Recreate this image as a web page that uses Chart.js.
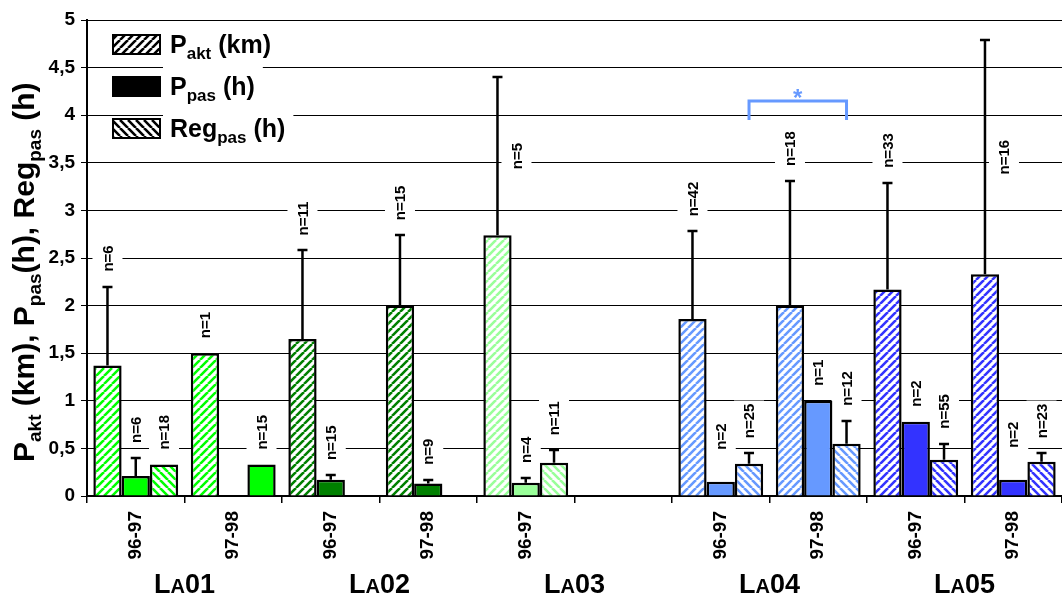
<!DOCTYPE html>
<html>
<head>
<meta charset="utf-8">
<script src="https://cdn.jsdelivr.net/npm/chart.js@4/dist/chart.umd.min.js"></script>
<style>
  html, body { margin: 0; padding: 0; background: #fff; }
  #wrap { width: 1062px; height: 599px; position: relative; }
</style>
</head>
<body>
<div id="wrap"><canvas id="chart"></canvas></div>
<script>
// seasons per site (LA03 only has one season, the slot after it stays empty)
const seasons = ['96-97', '97-98', '96-97', '97-98', '96-97', '', '96-97', '97-98', '96-97', '97-98'];
const sites = ['01', '02', '03', '04', '05'];
const siteOf = [0, 0, 1, 1, 2, 2, 3, 3, 4, 4];

// means, SD (upper whisker only) and sample sizes
const pakt   = [1.37, 1.50, 1.65, 2.00, 2.74, null, 1.86, 2.00, 2.17, 2.33];
const paktSD = [0.83, null, 0.93, 0.74, 1.66, null, 0.92, 1.31, 1.12, 2.46];
const paktN  = [6, 1, 11, 15, 5, null, 42, 18, 33, 16];

const ppas   = [0.21, null, 0.17, 0.13, 0.14, null, 0.15, 1.00, 0.78, 0.17];
const ppasSD = [0.19, null, 0.05, 0.04, 0.05, null, null, null, null, null];
const ppasN  = [6, null, 15, 9, 4, null, 2, 1, 2, 2];

const reg    = [0.33, 0.33, null, null, 0.35, null, 0.34, 0.55, 0.38, 0.36];
const regSD  = [null, null, null, null, 0.13, null, 0.11, 0.24, 0.17, 0.09];
const regN   = [18, 15, null, null, 11, null, 25, 12, 55, 23];

// significant difference: Reg_pas LA04 96-97 vs 97-98
const sigPair = [6, 7];
const sigLevel = 4.15;

const siteColors = ['#00FF00', '#008000', '#99FF99', '#6699FF', '#3333FF'];
const FONT = "'Liberation Sans', Arial, sans-serif";

function hatch(color, dir) {
  const s = 8;
  const c = document.createElement('canvas');
  c.width = c.height = s;
  const g = c.getContext('2d');
  g.fillStyle = '#fff';
  g.fillRect(0, 0, s, s);
  g.strokeStyle = color;
  g.lineWidth = 2.6;
  g.beginPath();
  for (let k = -1; k <= 1; k++) {
    if (dir > 0) { g.moveTo(k * s, s); g.lineTo(k * s + s, 0); }
    else { g.moveTo(k * s, 0); g.lineTo(k * s + s, s); }
  }
  g.stroke();
  return g.createPattern(c, 'repeat');
}

const solidReg = new Set([1]); // this Reg bar is filled solid
const paktFill = siteOf.map(s => hatch(siteColors[s], 1));
const ppasFill = siteOf.map(s => siteColors[s]);
const regFill  = siteOf.map((s, i) => solidReg.has(i) ? siteColors[s] : hatch(siteColors[s], -1));

const series = [
  { vals: pakt, sd: paktSD, n: paktN },
  { vals: ppas, sd: ppasSD, n: ppasN },
  { vals: reg,  sd: regSD,  n: regN }
];

function barBase(data, fill) {
  return { data, backgroundColor: fill, borderColor: '#000', borderWidth: 2.5,
           categoryPercentage: 0.87, barPercentage: 1.0 };
}

const N_FONT = `bold 15px ${FONT}`;

// ---- label geometry for the "n=" texts
function nLabelBoxes(chart) {
  const ctx = chart.ctx;
  const y = chart.scales.y;
  ctx.save();
  ctx.font = N_FONT;
  const out = [];
  series.forEach((ser, d) => {
    const meta = chart.getDatasetMeta(d);
    ser.vals.forEach((v, i) => {
      const n = ser.n[i];
      if (v == null || n == null) return;
      const el = meta.data[i];
      const sd = ser.sd[i];
      const top = y.getPixelForValue(v + (sd || 0));
      const text = 'n=' + n;
      const len = ctx.measureText(text).width;
      let x, bottom;
      if (sd && sd > 1.5) {
        // long whisker: put the label beside the line
        x = el.x + 19;
        bottom = (el.y + top) / 2 + len / 2;
      } else {
        const lift = (!sd && v < 0.3) ? 32 : 15;
        x = el.x;
        bottom = top - lift;
      }
      out.push({ x, bottom, len, text });
    });
  });
  ctx.restore();
  return out;
}

function drawRich(ctx, parts, big, small, drop) {
  let x = 0;
  parts.forEach(p => {
    ctx.font = `bold ${p.sub ? small : big}px ${FONT}`;
    ctx.fillText(p.t, x, p.sub ? drop : 0);
    x += ctx.measureText(p.t).width;
  });
  return x;
}
function richWidth(ctx, parts, big, small) {
  let w = 0;
  parts.forEach(p => {
    ctx.font = `bold ${p.sub ? small : big}px ${FONT}`;
    w += ctx.measureText(p.t).width;
  });
  return w;
}

const legendItems = [
  { fill: () => hatch('#000', 1), parts: [{ t: 'P' }, { t: 'akt', sub: true }, { t: ' (km)' }] },
  { fill: () => '#000', parts: [{ t: 'P' }, { t: 'pas', sub: true }, { t: ' (h)' }] },
  { fill: () => hatch('#000', -1), parts: [{ t: 'Reg' }, { t: 'pas', sub: true }, { t: ' (h)' }] }
];

const yTitle = [
  { t: 'P' }, { t: 'akt', sub: true }, { t: ' (km), P' }, { t: 'pas', sub: true },
  { t: '(h), Reg' }, { t: 'pas', sub: true }, { t: ' (h)' }
];

const extras = {
  id: 'extras',
  beforeDatasetsDraw(chart) {
    const ctx = chart.ctx;
    ctx.save();
    ctx.fillStyle = '#fff';
    nLabelBoxes(chart).forEach(b => {
      ctx.fillRect(b.x - 15, b.bottom - b.len - 3, 30, b.len + 6);
    });
    // legend text backgrounds
    legendItems.forEach((it, k) => {
      const cy = 44 + k * 42;
      const w = richWidth(ctx, it.parts, 25, 17);
      ctx.fillRect(163, cy - 21, w + 15, 42);
    });
    ctx.restore();
  },
  afterDatasetsDraw(chart) {
    const ctx = chart.ctx;
    const y = chart.scales.y;
    ctx.save();
    // whiskers
    ctx.strokeStyle = '#000';
    ctx.lineWidth = 2.5;
    series.forEach((ser, d) => {
      const meta = chart.getDatasetMeta(d);
      ser.vals.forEach((v, i) => {
        const sd = ser.sd[i];
        if (v == null || !sd) return;
        const el = meta.data[i];
        const top = Math.round(y.getPixelForValue(v + sd));
        ctx.beginPath();
        ctx.moveTo(el.x, el.y);
        ctx.lineTo(el.x, top);
        ctx.moveTo(el.x - 5, top);
        ctx.lineTo(el.x + 5, top);
        ctx.stroke();
      });
    });
    // n= labels
    ctx.fillStyle = '#000';
    ctx.font = N_FONT;
    ctx.textAlign = 'left';
    ctx.textBaseline = 'middle';
    nLabelBoxes(chart).forEach(b => {
      ctx.save();
      ctx.translate(b.x, b.bottom);
      ctx.rotate(-Math.PI / 2);
      ctx.fillText(b.text, 0, 1);
      ctx.restore();
    });
    // significance bracket
    const m = chart.getDatasetMeta(2);
    const xa = m.data[sigPair[0]].x, xb = m.data[sigPair[1]].x;
    const yt = y.getPixelForValue(sigLevel), yl = y.getPixelForValue(sigLevel - 0.2);
    ctx.strokeStyle = '#6699FF';
    ctx.lineWidth = 3;
    ctx.beginPath();
    ctx.moveTo(xa, yl); ctx.lineTo(xa, yt); ctx.lineTo(xb, yt); ctx.lineTo(xb, yl);
    ctx.stroke();
    ctx.fillStyle = '#6699FF';
    ctx.font = `bold 24px ${FONT}`;
    ctx.textAlign = 'center';
    ctx.textBaseline = 'alphabetic';
    ctx.fillText('*', (xa + xb) / 2, yt + 5);
    ctx.restore();
  },
  afterDraw(chart) {
    const ctx = chart.ctx;
    const x = chart.scales.x;
    ctx.save();
    ctx.fillStyle = '#000';
    ctx.textBaseline = 'alphabetic';
    ctx.textAlign = 'left';
    // legend
    legendItems.forEach((it, k) => {
      const cy = 44 + k * 42;
      ctx.fillStyle = it.fill();
      ctx.fillRect(113, cy - 9, 47, 19);
      ctx.strokeStyle = '#000';
      ctx.lineWidth = 2;
      ctx.strokeRect(113, cy - 9, 47, 19);
      ctx.fillStyle = '#000';
      ctx.save();
      ctx.translate(170, cy + 9);
      drawRich(ctx, it.parts, 25, 17, 6);
      ctx.restore();
    });
    // y axis title
    ctx.save();
    ctx.translate(34, 462);
    ctx.rotate(-Math.PI / 2);
    drawRich(ctx, yTitle, 30, 19, 7);
    ctx.restore();
    // site names in small caps
    sites.forEach((s, g) => {
      const cx = (x.getPixelForValue(2 * g) + x.getPixelForValue(2 * g + 1)) / 2;
      const parts = [{ t: 'L' }, { t: 'A', sub: true }, { t: s }];
      const w = richWidth(ctx, parts, 27, 20);
      ctx.save();
      ctx.translate(cx - w / 2, 593);
      drawRich(ctx, parts, 27, 20, 0);
      ctx.restore();
    });
    ctx.restore();
  }
};

new Chart(document.getElementById('chart'), {
  type: 'bar',
  data: {
    labels: seasons,
    datasets: [
      barBase(pakt, paktFill),
      barBase(ppas, ppasFill),
      barBase(reg, regFill)
    ]
  },
  options: {
    responsive: true,
    maintainAspectRatio: false,
    animation: false,
    layout: { padding: { top: 20, right: 0, left: 0, bottom: 0 } },
    plugins: { legend: { display: false }, tooltip: { enabled: false } },
    scales: {
      x: {
        grid: { drawOnChartArea: false, drawTicks: true, tickLength: 7, color: '#000', lineWidth: 1.5 },
        border: { display: true, color: '#000', width: 2 },
        ticks: { color: '#000', font: { family: FONT, size: 19, weight: 'bold' },
                 minRotation: 90, maxRotation: 90, autoSkip: false, padding: 8 },
        afterFit: s => { s.height = 103; }
      },
      y: {
        min: 0, max: 5,
        ticks: { stepSize: 0.5, color: '#000', padding: 6,
                 font: { family: FONT, size: 19, weight: 'bold' },
                 callback: v => String(v).replace('.', ',') },
        grid: { color: '#000', lineWidth: 1, tickLength: 6 },
        border: { color: '#000', width: 2 },
        afterFit: s => { s.width = 87; }
      }
    }
  },
  plugins: [extras]
});
</script>
</body>
</html>
